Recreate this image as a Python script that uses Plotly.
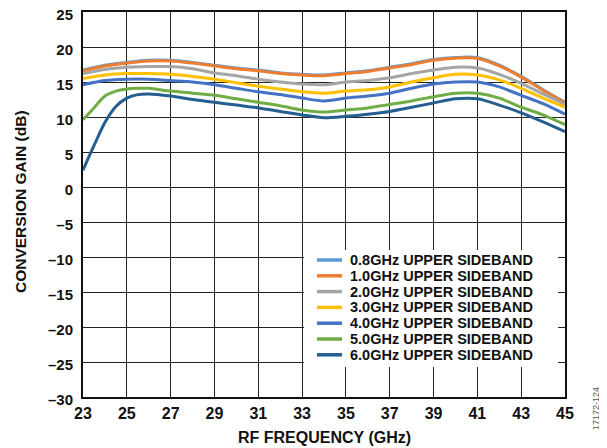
import plotly.graph_objects as go

# --- data ---
FREQ = [23, 24, 25, 26, 27, 28, 29, 30, 31, 32, 33, 34,
        35, 36, 37, 38, 39, 40, 41, 42, 43, 44, 45]
FREQ_FINE = [23, 23.5, 24, 24.5, 25, 25.5, 26, 27, 28, 29, 30, 31, 32, 33, 34,
             35, 36, 37, 38, 39, 40, 41, 42, 43, 44, 45]

GAIN_08 = [16.7, 17.4, 17.8, 18.1, 18.1, 17.8, 17.4, 17.0, 16.7, 16.3, 16.1, 16.0,
           16.3, 16.6, 17.1, 17.6, 18.2, 18.5, 18.5, 17.4, 15.8, 13.9, 12.1]
GAIN_10 = [16.6, 17.3, 17.7, 18.0, 18.0, 17.7, 17.3, 16.9, 16.6, 16.2, 16.0, 15.9,
           16.2, 16.5, 17.0, 17.5, 18.1, 18.4, 18.4, 17.3, 15.7, 13.8, 12.0]
GAIN_20 = [16.2, 16.8, 17.1, 17.2, 17.2, 16.9, 16.3, 15.9, 15.4, 15.0, 14.7, 14.6,
           15.0, 15.2, 15.6, 16.2, 16.7, 17.1, 17.0, 16.1, 14.8, 13.3, 11.8]
GAIN_30 = [15.5, 16.0, 16.2, 16.2, 16.1, 15.8, 15.4, 14.9, 14.4, 14.0, 13.6, 13.4,
           13.7, 13.9, 14.3, 15.0, 15.6, 16.1, 16.0, 15.3, 14.1, 12.7, 11.4]
GAIN_40 = [14.6, 15.2, 15.4, 15.4, 15.2, 15.0, 14.6, 14.1, 13.6, 13.2, 12.7, 12.3,
           12.7, 13.0, 13.4, 14.1, 14.7, 15.0, 15.0, 14.3, 13.1, 11.9, 10.4]
GAIN_50 = [9.6, 11.3, 13.0, 13.7, 14.0, 14.1, 14.1, 13.7, 13.4, 13.1, 12.6, 12.1, 11.6,
           11.0, 10.7, 11.0, 11.3, 11.8, 12.3, 12.9, 13.4, 13.4, 12.7, 11.4, 10.3, 8.9]
GAIN_60 = [2.4, 5.9, 9.2, 11.5, 12.7, 13.2, 13.3, 13.0, 12.5, 12.1, 11.7, 11.3, 10.8,
           10.3, 9.9, 10.1, 10.4, 10.8, 11.4, 12.0, 12.6, 12.6, 11.7, 10.6, 9.3, 7.9]

LABELS = ["0.8GHz UPPER SIDEBAND", "1.0GHz UPPER SIDEBAND", "2.0GHz UPPER SIDEBAND",
          "3.0GHz UPPER SIDEBAND", "4.0GHz UPPER SIDEBAND", "5.0GHz UPPER SIDEBAND",
          "6.0GHz UPPER SIDEBAND"]
COLORS = ["#5B9BD5", "#ED7D31", "#A5A5A5", "#FFC000", "#4472C4", "#70AD47", "#255E91"]

X_TICKS = list(range(23, 46, 2))
Y_TICKS = list(range(-30, 26, 5))
Y_TICKTEXT = [f"–{abs(v)}" if v < 0 else str(v) for v in Y_TICKS]

FONT = "Arial, Liberation Sans, sans-serif"

series = [
    (FREQ, GAIN_08), (FREQ, GAIN_10), (FREQ, GAIN_20), (FREQ, GAIN_30),
    (FREQ, GAIN_40), (FREQ_FINE, GAIN_50), (FREQ_FINE, GAIN_60),
]

fig = go.Figure()
for (xs, ys), name, col in zip(series, LABELS, COLORS):
    fig.add_trace(go.Scatter(x=xs, y=ys, name=name, mode="lines",
                             line=dict(color=col, width=3, shape="spline", smoothing=0.8),
                             showlegend=False))

# page layout: the html body has an 8px margin, so the figure is 8px smaller
# and the margins are shifted to land the plot where the original has it
OFF = 8
W, H = 607 - OFF, 448 - OFF
PL, PR, PT, PB = 83, 565, 12, 397          # plot box in page pixels
L, R, T, B = PL - OFF, W - (PR - OFF), PT - OFF, H - (PB - OFF)
def px(xp): return (xp - PL) / (PR - PL)
def py(yp): return (PB - yp) / (PB - PT)

# hand-built legend (tight rows like the original)
shapes = [dict(type="rect", xref="paper", yref="paper",
               x0=px(304), x1=px(558), y0=py(367), y1=py(250),
               fillcolor="white", line=dict(width=0), layer="above")]
annotations = []
for i, (name, col) in enumerate(zip(LABELS, COLORS)):
    yc = 260 + 15.8 * i
    shapes.append(dict(type="line", xref="paper", yref="paper",
                       x0=px(317), x1=px(342), y0=py(yc), y1=py(yc),
                       line=dict(color=col, width=3.5), layer="above"))
    annotations.append(dict(text=name, xref="paper", yref="paper", x=px(348), y=py(yc),
                            xanchor="left", yanchor="middle", showarrow=False,
                            font=dict(family=FONT, size=14.5, color="#111", weight="bold")))

annotations += [
    dict(text="17172-124", xref="paper", yref="paper", x=px(596), y=py(409),
         textangle=-90, showarrow=False, xanchor="center", yanchor="middle",
         font=dict(family=FONT, size=9, color="#555")),
    dict(text="RF FREQUENCY (GHz)", xref="paper", yref="paper", x=px(324), y=py(438),
         showarrow=False, xanchor="center", yanchor="middle",
         font=dict(family=FONT, size=16, color="#111", weight="bold")),
    dict(text="CONVERSION GAIN (dB)", xref="paper", yref="paper", x=px(20), y=py(202),
         textangle=-90, showarrow=False, xanchor="center", yanchor="middle",
         font=dict(family=FONT, size=15.5, color="#111", weight="bold")),
]

fig.update_layout(
    width=W, height=H,
    margin=dict(l=L, r=R, t=T, b=B, pad=0),
    paper_bgcolor="white", plot_bgcolor="white",
    font=dict(family=FONT, size=14, color="#111"),
    shapes=shapes, annotations=annotations,
)
fig.update_xaxes(
    range=[23, 45], tickvals=X_TICKS, ticks="", showgrid=True, gridcolor="#222", gridwidth=1,
    showline=True, linecolor="#111", linewidth=2, mirror=True, zeroline=False,
    tickfont=dict(family=FONT, size=16, weight="bold"), ticklabelstandoff=1,
    automargin=False, ticklabeloverflow="allow",
)
fig.update_yaxes(
    range=[-30, 25], tickvals=Y_TICKS, ticktext=Y_TICKTEXT, ticks="", showgrid=True,
    gridcolor="#222", gridwidth=1, showline=True, linecolor="#111", linewidth=2, mirror=True,
    zeroline=False, tickfont=dict(family=FONT, size=15, weight="bold"), ticklabelstandoff=5,
    ticklabelshift=3, automargin=False, ticklabeloverflow="allow",
)

fig.write_html("out.html")
